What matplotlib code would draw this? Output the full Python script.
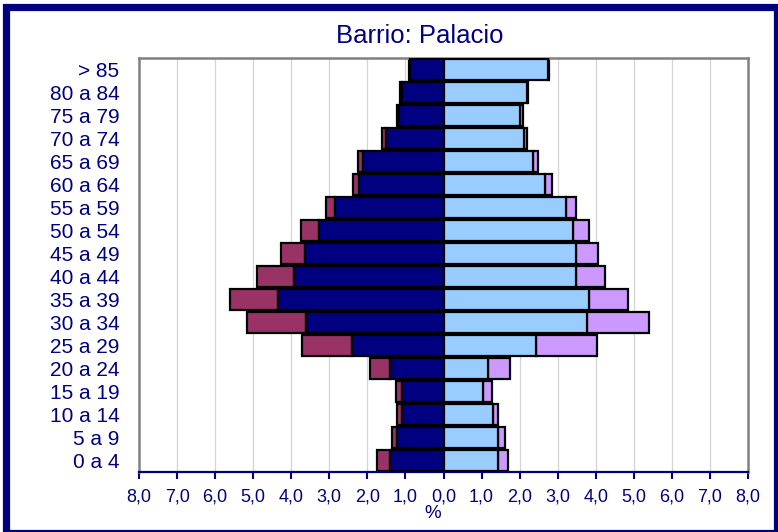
import numpy as np
import matplotlib.pyplot as plt
from matplotlib.patches import Rectangle

plt.rcParams['font.family'] = ['Liberation Sans', 'DejaVu Sans']

# Datos: porcentaje de población por grupo de edad (de 0 a 4 hasta > 85)
grupos = ['0 a 4', '5 a 9', '10 a 14', '15 a 19', '20 a 24', '25 a 29',
          '30 a 34', '35 a 39', '40 a 44', '45 a 49', '50 a 54', '55 a 59',
          '60 a 64', '65 a 69', '70 a 74', '75 a 79', '80 a 84', '> 85']

hombres_esp = [1.41, 1.22, 1.10, 1.10, 1.41, 2.40, 3.62, 4.36, 3.93,
               3.65, 3.27, 2.85, 2.22, 2.11, 1.50, 1.18, 1.10, 0.88]
hombres_ext = [0.35, 0.14, 0.12, 0.16, 0.52, 1.31, 1.55, 1.25, 0.96,
               0.63, 0.48, 0.23, 0.15, 0.13, 0.11, 0.05, 0.03, 0.02]
mujeres_esp = [1.44, 1.42, 1.31, 1.05, 1.18, 2.42, 3.78, 3.83, 3.48,
               3.48, 3.41, 3.21, 2.67, 2.36, 2.12, 2.01, 2.20, 2.75]
mujeres_ext = [0.25, 0.20, 0.11, 0.22, 0.57, 1.61, 1.62, 1.03, 0.76,
               0.57, 0.42, 0.27, 0.19, 0.11, 0.07, 0.07, 0.03, 0.03]

ticks_x = np.arange(-8, 9)

navy = '#000080'
y = np.arange(len(grupos))
h_esp = np.array(hombres_esp)
h_ext = np.array(hombres_ext)
m_esp = np.array(mujeres_esp)
m_ext = np.array(mujeres_ext)

fig = plt.figure(figsize=(7.78, 5.32), dpi=100)
ax = fig.add_axes([139 / 778, 1 - 472 / 532, (748 - 139) / 778, (472 - 58) / 532])

# Rejilla vertical
for t in ticks_x[1:-1]:
    ax.axvline(t, color='#d4d4d4', linewidth=0.9, zorder=0)

alto = 0.93
lw = 1.6
# Hombres (izquierda)
ax.barh(y, -h_esp, height=alto, color=navy, edgecolor='black', linewidth=lw, zorder=3)
ax.barh(y, -h_ext, left=-h_esp, height=alto, color='#993366', edgecolor='black',
        linewidth=lw, zorder=2)
# Mujeres (derecha)
ax.barh(y, m_esp, height=alto, color='#99CCFF', edgecolor='black', linewidth=lw, zorder=3)
ax.barh(y, m_ext, left=m_esp, height=alto, color='#CC99FF', edgecolor='black',
        linewidth=lw, zorder=2)

ax.set_xlim(-8, 8)
ax.set_ylim(-0.5, len(grupos) - 0.5)

ax.set_xticks(ticks_x)
ax.set_xticklabels([f'{abs(t):.1f}'.replace('.', ',') for t in ticks_x])
ax.set_yticks(y)
ax.set_yticklabels(grupos)

ax.tick_params(axis='x', colors=navy, labelsize=13, length=5, width=1.5, pad=7)
ax.tick_params(axis='y', colors=navy, labelsize=15, length=0, pad=14)

for lado in ['top', 'left', 'right']:
    ax.spines[lado].set_color('#808080')
    ax.spines[lado].set_linewidth(1.8)
ax.spines['bottom'].set_color(navy)
ax.spines['bottom'].set_linewidth(1.6)

fig.text(420 / 778, 1 - 36 / 532, 'Barrio: Palacio', color=navy, fontsize=18.5,
         ha='center', va='center')
fig.text(433 / 778, 1 - 514 / 532, '%', color=navy, fontsize=13.5,
         ha='center', va='center')

# Marco exterior del gráfico
marco = Rectangle((6.5 / 778, -0.5 / 532), 771 / 778, 526 / 532,
                  transform=fig.transFigure, fill=False, edgecolor=navy,
                  linewidth=5.2, zorder=10)
fig.patches.append(marco)

plt.savefig('out.png', dpi=100)
